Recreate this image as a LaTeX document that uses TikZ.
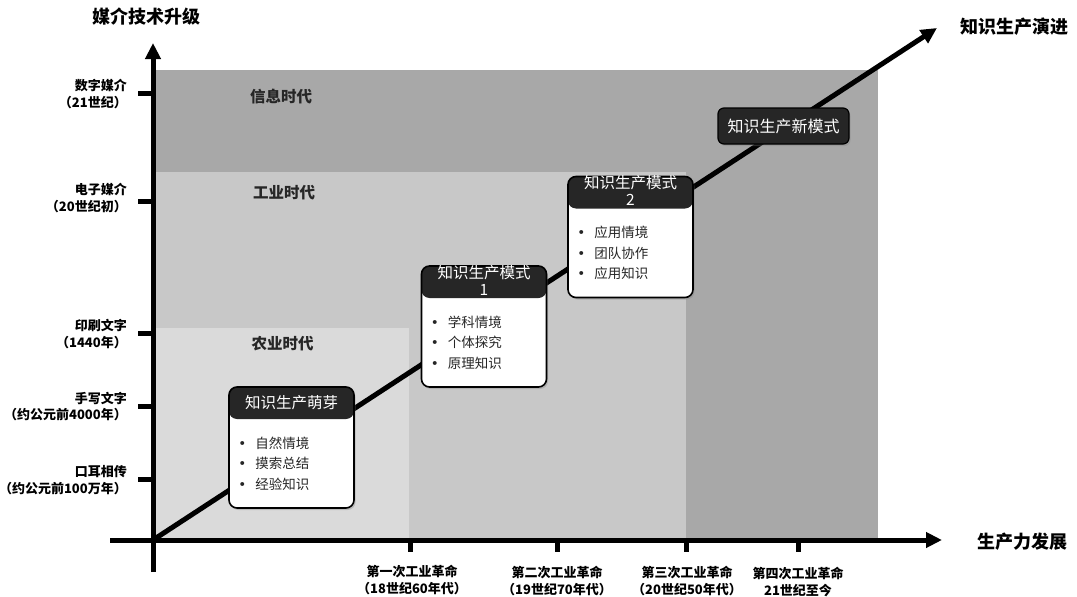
\documentclass[tikz,border=0pt]{standalone}
\usepackage{fontspec}
\setmainfont{Noto Sans CJK SC}
\newfontfamily\dotfont{DejaVu Sans}
\usepackage{tikz}
\usetikzlibrary{arrows.meta}
\usetikzlibrary{shadows}
\definecolor{ageinfo}{HTML}{A8A8A8}
\definecolor{ageind}{HTML}{C8C8C8}
\definecolor{ageagr}{HTML}{DADADA}
\definecolor{hdr}{HTML}{262626}
\tikzset{>={Triangle[length=16pt,width=15pt]}}
\tikzset{axisline/.style={line width=5pt,->}}
\tikzset{tickline/.style={line width=5pt}}
\tikzset{ylab/.style={anchor=east,align=right,inner sep=1pt,
    font=\bfseries\fontsize{13}{16.5}\selectfont}}
\tikzset{xlab/.style={align=center,inner sep=1pt,
    font=\bfseries\fontsize{13}{17}\selectfont}}
\tikzset{axtitle/.style={font=\bfseries\fontsize{18}{20}\selectfont}}
\tikzset{eralab/.style={text=black!85,font=\bfseries\fontsize{15.5}{18}\selectfont}}
\tikzset{kbox/.style={draw,line width=1.6pt,rounded corners=8pt,fill=white,
    minimum width=125pt,minimum height=121pt,inner sep=0pt,
    drop shadow={opacity=0.35,shadow xshift=1.5pt,shadow yshift=-2pt},
    path picture={\fill[hdr] (path picture bounding box.north west) rectangle
      ([yshift=-32pt]path picture bounding box.north east);}}}
\tikzset{nbox/.style={draw,line width=1.2pt,rounded corners=6pt,fill=hdr,text=white,
    minimum width=131pt,minimum height=36pt,inner sep=0pt,
    drop shadow={opacity=0.35,shadow xshift=1.5pt,shadow yshift=-2pt},
    font=\fontsize{16}{18}\selectfont}}
\tikzset{htext/.style={text=white,align=center,inner sep=0pt,
    font=\fontsize{15.5}{17}\selectfont}}
\tikzset{kitems/.style={anchor=west,align=left,text=black!85,inner sep=0pt,
    font=\fontsize{13.5}{20.5}\selectfont}}
\newcommand{\kitem}{\makebox[17pt][l]{\dotfont •}}

\begin{document}
\begin{tikzpicture}[x=1pt,y=-1pt]
\useasboundingbox (0,0) rectangle (1077,597);
    %eras
    \fill[ageinfo] (155,70) rectangle (878,172);
    \fill[ageinfo] (686,172) rectangle (878,540);
    \fill[ageind] (155,172) rectangle (686,540);
    \fill[ageagr] (155,328) rectangle (409,540);
    \node[eralab] (e3) at (281,97) {信息时代};
    \node[eralab] (e2) at (284,193) {工业时代};
    \node[eralab] (e1) at (282.5,344) {农业时代};
    %axes
    \coordinate (o) at (153,540);
    \coordinate (ybot) at (153,572);
    \coordinate (ytop) at (153,43);
    \coordinate (xleft) at (110,540);
    \coordinate (xright) at (942,540);
    \coordinate (ktop) at (937,28);
    \draw[axisline] (ybot) -- (ytop);
    \draw[axisline] (xleft) -- (xright);
    \draw[axisline] (o) -- (ktop);
    \node[axtitle] (ytitle) at (146,17) {媒介技术升级};
    \node[axtitle] (ktitle) at (1014,27) {知识生产演进};
    \node[axtitle] (xtitle) at (1022,542) {生产力发展};
    %media ticks
    \draw[tickline] (138,93) -- (153,93);
    \draw[tickline] (138,201) -- (153,201);
    \draw[tickline] (138,333) -- (153,333);
    \draw[tickline] (138,406) -- (153,406);
    \draw[tickline] (138,479) -- (153,479);
    \node[ylab] (m5) at (128,94) {数字媒介\\（21世纪）};
    \node[ylab] (m4) at (128,198) {电子媒介\\（20世纪初）};
    \node[ylab] (m3) at (128,334) {印刷文字\\（1440年）};
    \node[ylab] (m2) at (128,406.5) {手写文字\\（约公元前4000年）};
    \node[ylab] (m1) at (128,480) {口耳相传\\（约公元前100万年）};
    %revolution ticks
    \draw[tickline] (410,540) -- (410,552);
    \draw[tickline] (557,540) -- (557,552);
    \draw[tickline] (686,540) -- (686,552);
    \draw[tickline] (798,540) -- (798,552);
    \node[xlab] (r1) at (412,580) {第一次工业革命\\（18世纪60年代）};
    \node[xlab] (r2) at (557,581) {第二次工业革命\\（19世纪70年代）};
    \node[xlab] (r3) at (687,581) {第三次工业革命\\（20世纪50年代）};
    \node[xlab] (r4) at (798,582) {第四次工业革命\\21世纪至今};
    %knowledge modes
    \node[kbox] (k0) at (291.5,447.5) {};
    \node[htext] (h0) at ([yshift=-16pt]k0.north) {知识生产萌芽};
    \node[kitems] (i0) at ([xshift=10pt,yshift=-16pt]k0.west)
        {\kitem 自然情境\\\kitem 摸索总结\\\kitem 经验知识};
    \node[kbox] (k1) at (484,326.5) {};
    \node[htext] (h1) at ([yshift=-15pt]k1.north) {知识生产模式\\1};
    \node[kitems] (i1) at ([xshift=10pt,yshift=-16pt]k1.west)
        {\kitem 学科情境\\\kitem 个体探究\\\kitem 原理知识};
    \node[kbox] (k2) at (630.5,237) {};
    \node[htext] (h2) at ([yshift=-15pt]k2.north) {知识生产模式\\2};
    \node[kitems] (i2) at ([xshift=10pt,yshift=-16pt]k2.west)
        {\kitem 应用情境\\\kitem 团队协作\\\kitem 应用知识};
    \node[nbox] (k3) at (783.5,126) {知识生产新模式};
\end{tikzpicture}
\end{document}
